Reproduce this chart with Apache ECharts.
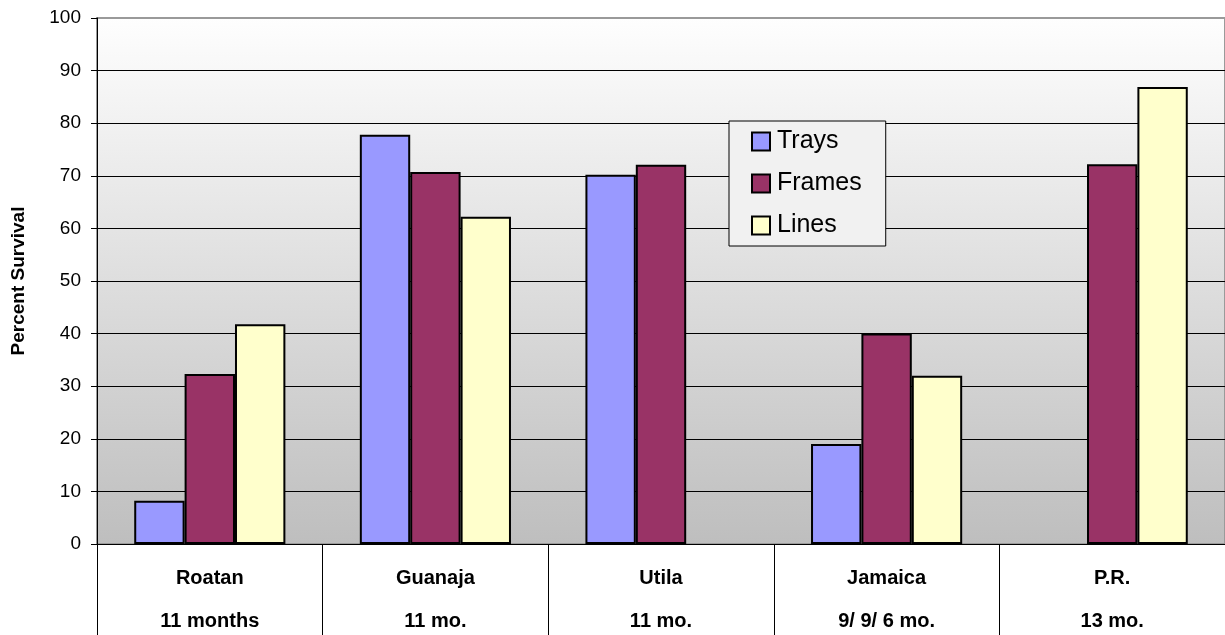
<!DOCTYPE html>
<html>
<head>
<meta charset="utf-8">
<script src="https://cdn.jsdelivr.net/npm/echarts@6/dist/echarts.min.js"></script>
<style>
  html, body { margin: 0; padding: 0; background: #ffffff; }
  #chart { width: 1225px; height: 635px; }
</style>
</head>
<body>
<div id="chart"></div>
<script>
// Sites and the length of each trial
const sites = ['Roatan', 'Guanaja', 'Utila', 'Jamaica', 'P.R.'];
const periods = ['11 months', '11 mo.', '11 mo.', '9/ 9/ 6 mo.', '13 mo.'];

// Percent survival by nursery method (null = method not used at that site)
const trays = [8.2, 77.8, 70.2, 19.0, null];
const frames = [32.3, 70.7, 72.1, 40.0, 72.2];
const lines = [41.8, 62.2, null, 32.0, 86.9];

const yTicks = { min: 0, max: 100, step: 10 };

const FONT = "'Liberation Sans', Arial, sans-serif";

const chart = echarts.init(document.getElementById('chart'), null, { renderer: 'canvas' });

function barSeries(name, data, color) {
  return {
    name: name,
    type: 'bar',
    data: data,
    barGap: '0%',
    barCategoryGap: '33%',
    itemStyle: { color: color, borderColor: '#000000', borderWidth: 2 },
    emphasis: { disabled: true }
  };
}

chart.setOption({
  animation: false,
  backgroundColor: '#ffffff',
  textStyle: { fontFamily: FONT },
  grid: {
    left: 97, top: 18, right: -2, bottom: 91,
    show: true,
    borderColor: '#9a9a9a',
    borderWidth: 2,
    backgroundColor: {
      type: 'linear', x: 0, y: 0, x2: 0, y2: 1,
      colorStops: [
        { offset: 0, color: '#fefefe' },
        { offset: 1, color: '#bebebe' }
      ]
    }
  },
  legend: {
    orient: 'vertical',
    left: 729, top: 121,
    padding: [8, 24, 8, 22],
    itemGap: 17,
    itemWidth: 18, itemHeight: 18,
    icon: 'rect',
    backgroundColor: '#f1f1f1',
    borderColor: '#000000',
    borderWidth: 1,
    borderRadius: 0,
    selectedMode: false,
    textStyle: { fontFamily: FONT, fontSize: 25, color: '#000000', lineHeight: 25, padding: [0, 0, 0, 2] },
    data: ['Trays', 'Frames', 'Lines']
  },
  xAxis: {
    type: 'category',
    data: sites,
    axisLine: { show: true, lineStyle: { color: '#000000', width: 1 } },
    axisTick: { show: true, length: 95, lineStyle: { color: '#000000', width: 1 } },
    axisLabel: {
      interval: 0,
      margin: 13,
      formatter: function (v, i) { return '{a|' + v + '}\n{b|' + periods[i] + '}'; },
      rich: {
        a: { fontFamily: FONT, fontWeight: 'bold', fontSize: 20, color: '#000000', lineHeight: 43 },
        b: { fontFamily: FONT, fontWeight: 'bold', fontSize: 20, color: '#000000', lineHeight: 43 }
      }
    }
  },
  yAxis: {
    type: 'value',
    min: yTicks.min, max: yTicks.max, interval: yTicks.step,
    name: 'Percent Survival',
    nameLocation: 'middle',
    nameGap: 69,
    nameRotate: 90,
    nameTextStyle: { fontFamily: FONT, fontWeight: 'bold', fontSize: 19, color: '#000000' },
    axisLine: { show: true, lineStyle: { color: '#000000', width: 1 } },
    axisTick: { show: true, inside: false, length: 6, lineStyle: { color: '#000000' } },
    axisLabel: { margin: 16, fontFamily: FONT, fontSize: 19, color: '#000000' },
    splitLine: { show: true, showMaxLine: false, lineStyle: { color: '#000000', width: 1 } }
  },
  series: [
    barSeries('Trays', trays, '#9999ff'),
    barSeries('Frames', frames, '#993366'),
    barSeries('Lines', lines, '#ffffcc')
  ]
});
</script>
</body>
</html>
